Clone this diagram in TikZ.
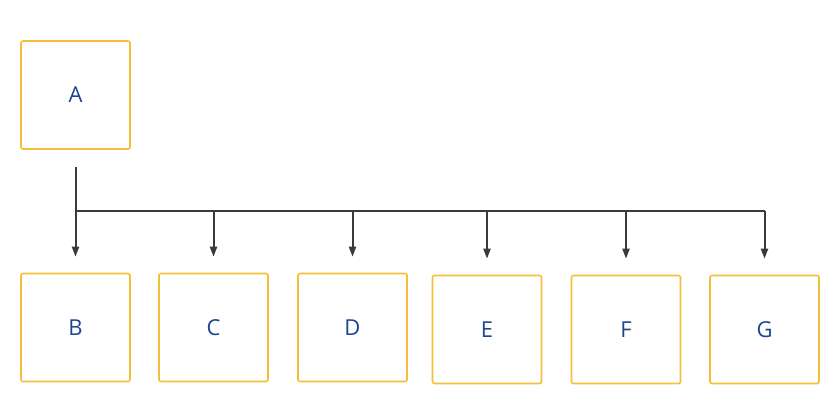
\documentclass[tikz,border=0pt]{standalone}
\usepackage{fontspec}
\setmainfont{Open Sans}
\usetikzlibrary{arrows.meta}
\definecolor{boxline}{HTML}{F5BF3A}
\definecolor{labelblue}{HTML}{1E4690}
\definecolor{linkgray}{HTML}{3A3A3A}
\tikzset{
  card/.style={draw=boxline, line width=1.6pt, rounded corners=2pt, fill=white,
    minimum width=109pt, minimum height=108pt, inner sep=0pt,
    text=labelblue, font=\fontsize{22}{26}\selectfont},
  link/.style={draw=linkgray, line width=2pt},
  drop/.style={link, -{Triangle[length=10pt,width=7pt]}, shorten >=16pt}
}
\begin{document}
\begin{tikzpicture}[x=1pt,y=-1pt]
  \useasboundingbox[fill=white] (0,0) rectangle (840,403);
  % top box
  \node[card] (A) at (75.5,95) {A};
  % bottom row
  \node[card] (B) at (75.5,327.5) {B};
  \node[card] (C) at (213.5,327.5) {C};
  \node[card] (D) at (352.5,327.5) {D};
  \node[card] (E) at (487,329.5) {E};
  \node[card] (F) at (626,329.5) {F};
  \node[card] (G) at (764.5,329.5) {G};
  \coordinate (top) at (75.5,167);
  \coordinate (bus) at (75.5,211);
  % connectors
  \draw[link] (bus -| B.north) -- (bus -| G.north);
  \draw[drop] (top) -- (B.north);
  \draw[drop] (bus -| C.north) -- (C.north);
  \draw[drop] (bus -| D.north) -- (D.north);
  \draw[drop] (bus -| E.north) -- (E.north);
  \draw[drop] (bus -| F.north) -- (F.north);
  \draw[drop] (bus -| G.north) -- (G.north);
\end{tikzpicture}
\end{document}
